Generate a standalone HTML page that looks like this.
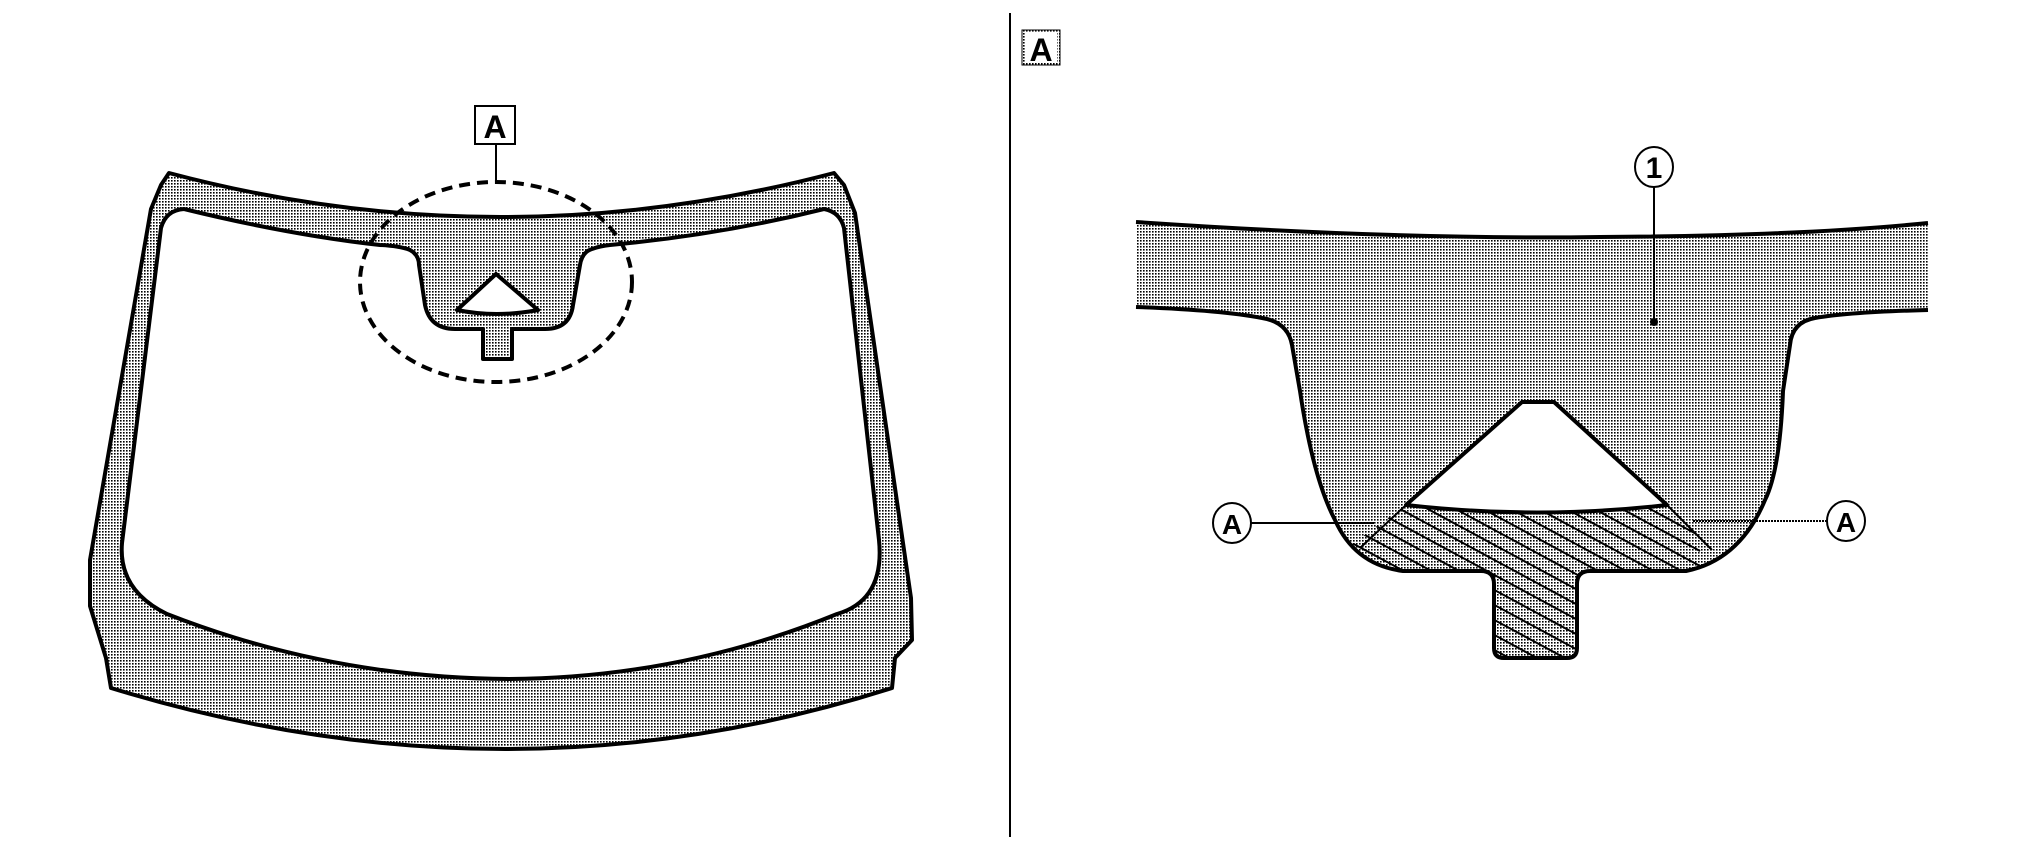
<!DOCTYPE html>
<html><head><meta charset="utf-8"><style>html,body{margin:0;padding:0;background:#fff}svg{display:block}</style></head>
<body>
<svg width="2020" height="851" viewBox="0 0 2020 851" xmlns="http://www.w3.org/2000/svg">
<defs>
<pattern id="dots" width="3" height="3" patternUnits="userSpaceOnUse">
<rect width="3" height="3" fill="#fff"/><rect width="1.6" height="1.6" fill="#000"/>
</pattern>
<clipPath id="shp"><path id="shpP" d="M1136,222 Q1400,240 1600,237 Q1800,236 1928,223 L1928,310 Q1850,312 1815,318 Q1792,322 1790,345 L1783,391 Q1780,470 1765,500 Q1740,560 1686,571 L1590,571 Q1577,571 1577,584 L1577,648 Q1577,658 1567,658 L1504,658 Q1494,658 1494,648 L1494,584 Q1494,571 1481,571 L1403,571 Q1355,565 1335,520 Q1313,478 1300,391 L1292,345 Q1288,322 1262,318 Q1220,310 1136,307 Z"/></clipPath>
<clipPath id="hreg"><path d="M1406,505 Q1538,520 1667,505 L1720,560 L1720,700 L1330,700 L1330,560 Z"/></clipPath>
</defs>
<!-- left windshield -->
<path d="M169,173 Q500,261 834,173 L844,185 L855,213 L911,598 L912,640 L895,658 L892,688 Q509,810 111,688 L106,658 L90,606 L90,560 L151,209 L161,185 Z" fill="url(#dots)" stroke="#000" stroke-width="4" stroke-linejoin="round"/>
<path d="M184,209 Q290,235 380,245 Q400,246 410,250 Q419,255 419,265 L425,305 Q430,329 455,329 L483,329 L483,359 L512,359 L512,329 L545,329 Q570,329 573,305 L580,265 Q582,252 592,249 Q600,246 610,245 Q720,235 824,209 Q840,212 844,228 L879,540 Q885,600 837,614 Q680,678 509,679 Q330,678 167,614 Q118,590 122,543 L161,228 Q166,210 184,209 Z" fill="#fff" stroke="#000" stroke-width="4" stroke-linejoin="round"/>
<path d="M496,274 L457,310 Q496,318 538,310 Z" fill="#fff" stroke="#000" stroke-width="4" stroke-linejoin="round"/>
<ellipse cx="496" cy="282" rx="136" ry="100" fill="none" stroke="#000" stroke-width="4" stroke-dasharray="11,7"/>
<line x1="496" y1="144" x2="496" y2="182" stroke="#000" stroke-width="2"/>
<rect x="475" y="106" width="40" height="38" fill="#fff" stroke="#000" stroke-width="2"/>
<text x="495" y="138" font-family="Liberation Sans, sans-serif" font-weight="bold" font-size="32" text-anchor="middle">A</text>
<!-- divider -->
<line x1="1010" y1="13" x2="1010" y2="837" stroke="#000" stroke-width="2"/>
<!-- right detail -->
<rect x="1022" y="30" width="38" height="35" fill="url(#dots)" stroke="#000" stroke-width="1"/>
<rect x="1025" y="33" width="32" height="29" fill="#fff"/>
<text x="1041" y="61" font-family="Liberation Sans, sans-serif" font-weight="bold" font-size="32" text-anchor="middle">A</text>
<use href="#shpP" fill="url(#dots)"/>
<g clip-path="url(#shp)" stroke="#000" stroke-width="2">
<g clip-path="url(#hreg)">
<line x1="1300" y1="440" x2="1700" y2="656"/><line x1="1300" y1="455" x2="1700" y2="671"/>
<line x1="1300" y1="470" x2="1700" y2="686"/><line x1="1300" y1="485" x2="1700" y2="701"/>
<line x1="1300" y1="500" x2="1700" y2="716"/><line x1="1300" y1="515" x2="1700" y2="731"/>
<line x1="1300" y1="530" x2="1700" y2="746"/><line x1="1300" y1="545" x2="1700" y2="761"/>
<line x1="1300" y1="425" x2="1700" y2="641"/><line x1="1300" y1="410" x2="1700" y2="626"/>
<line x1="1300" y1="395" x2="1700" y2="611"/><line x1="1300" y1="380" x2="1700" y2="596"/>
<line x1="1300" y1="365" x2="1700" y2="581"/><line x1="1300" y1="350" x2="1700" y2="566"/>
<line x1="1300" y1="335" x2="1700" y2="551"/><line x1="1300" y1="320" x2="1700" y2="536"/>
<line x1="1300" y1="305" x2="1700" y2="521"/><line x1="1300" y1="290" x2="1700" y2="506"/>
<line x1="1300" y1="275" x2="1700" y2="491"/><line x1="1300" y1="260" x2="1700" y2="476"/>
<line x1="1360" y1="250" x2="1760" y2="466"/><line x1="1420" y1="240" x2="1800" y2="445"/>
</g>
<line x1="1406" y1="505" x2="1360" y2="548"/>
<line x1="1667" y1="505" x2="1712" y2="550"/>
</g>
<path d="M1136,222 Q1400,240 1600,237 Q1800,236 1928,223" fill="none" stroke="#000" stroke-width="4"/>
<path d="M1136,307 Q1220,310 1262,318 Q1288,322 1292,345 L1300,391 Q1313,478 1335,520 Q1355,565 1403,571 L1481,571 Q1494,571 1494,584 L1494,648 Q1494,658 1504,658 L1567,658 Q1577,658 1577,648 L1577,584 Q1577,571 1590,571 L1686,571 Q1740,560 1765,500 Q1780,470 1783,391 L1790,345 Q1792,322 1815,318 Q1850,312 1928,310" fill="none" stroke="#000" stroke-width="4" stroke-linejoin="round"/>
<path d="M1522,402 L1554,402 L1667,505 Q1538,520 1406,505 Z" fill="#fff" stroke="#000" stroke-width="4" stroke-linejoin="round"/>
<!-- callouts -->
<line x1="1654" y1="187" x2="1654" y2="322" stroke="#000" stroke-width="2"/>
<circle cx="1654" cy="322" r="4" fill="#000"/>
<ellipse cx="1654" cy="167" rx="19" ry="20" fill="#fff" stroke="#000" stroke-width="2"/>
<text x="1654" y="178" font-family="Liberation Sans, sans-serif" font-weight="bold" font-size="30" text-anchor="middle">1</text>
<line x1="1251" y1="523" x2="1374" y2="523" stroke="#000" stroke-width="2"/>
<ellipse cx="1232" cy="523" rx="19" ry="20" fill="#fff" stroke="#000" stroke-width="2"/>
<text x="1232" y="534" font-family="Liberation Sans, sans-serif" font-weight="bold" font-size="28" text-anchor="middle">A</text>
<line x1="1693" y1="521" x2="1827" y2="521" stroke="#000" stroke-width="2" stroke-dasharray="2,1"/>
<ellipse cx="1846" cy="521" rx="19" ry="20" fill="#fff" stroke="#000" stroke-width="2"/>
<text x="1846" y="532" font-family="Liberation Sans, sans-serif" font-weight="bold" font-size="28" text-anchor="middle">A</text>
</svg>
</body></html>
